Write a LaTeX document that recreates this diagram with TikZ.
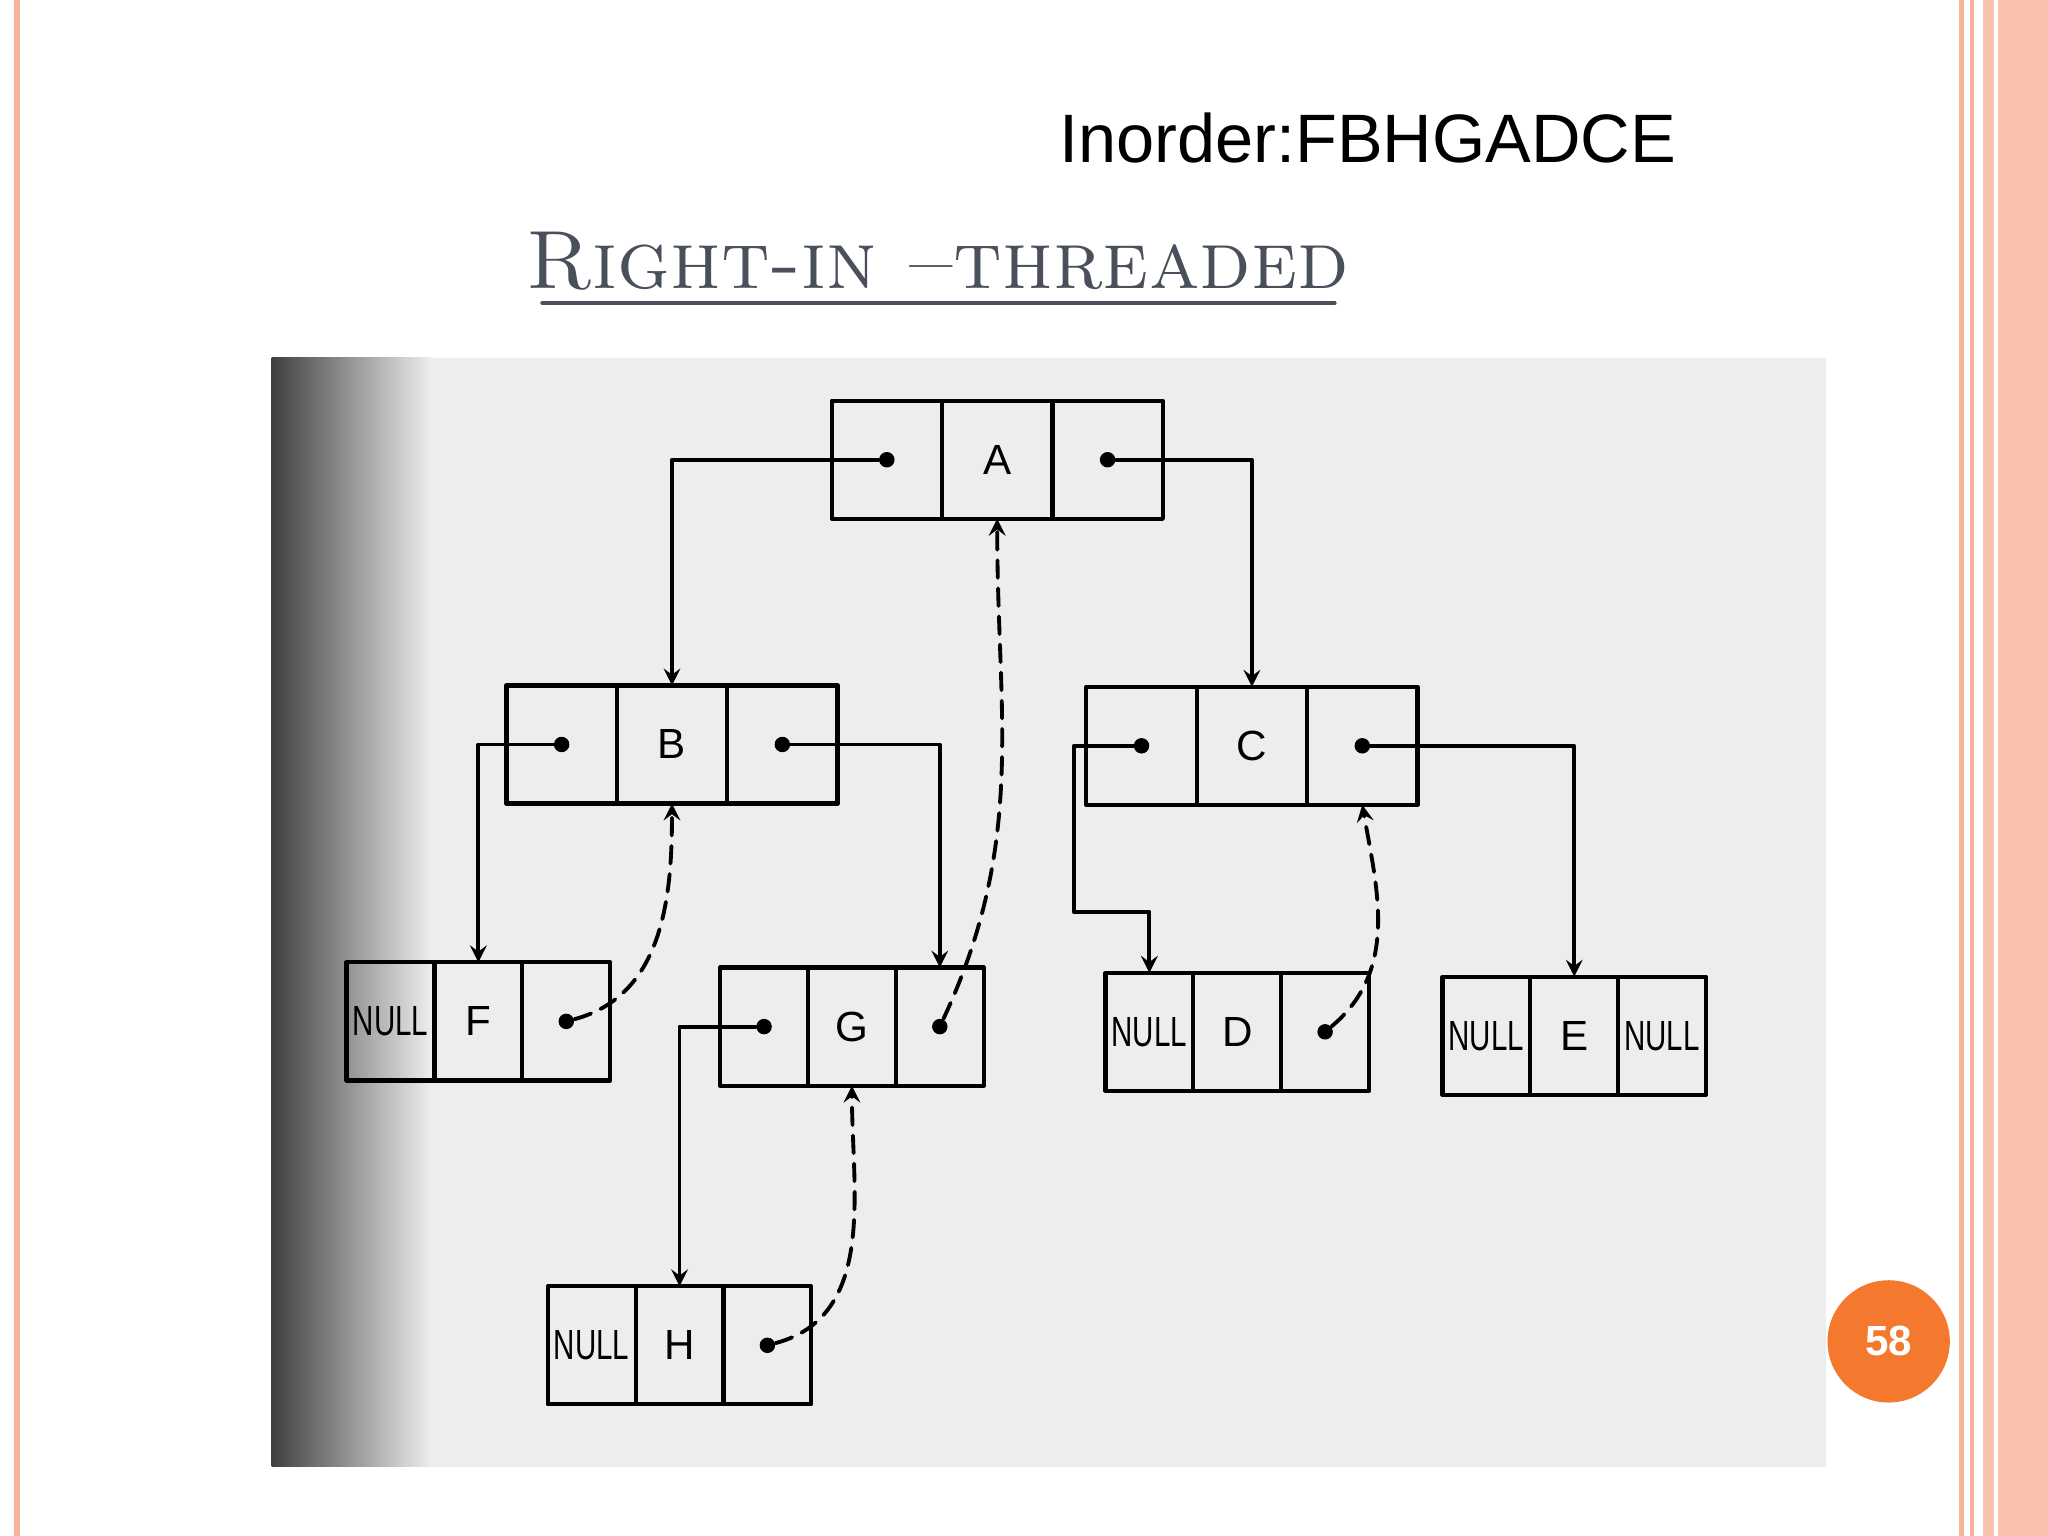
\documentclass[tikz,border=0pt]{standalone}
\usepackage{fontspec}
\newfontfamily\arial{Liberation Sans}
\usetikzlibrary{positioning}
\definecolor{salmon}{HTML}{F7B39A}
\definecolor{badge}{HTML}{F5782F}
\definecolor{titlegray}{HTML}{4A4F5C}
\tikzset{
  cell/.style={draw,line width=1.2pt,minimum width=31.4pt,minimum height=33.6pt,inner sep=0pt,
    outer sep=0pt,font=\arial\fontsize{12}{14}\selectfont},
  small/.style={cell,minimum width=25pt},
  link/.style={line width=1.1pt,->,>=stealth},
  thread/.style={line width=1.1pt,->,>=stealth,dash pattern=on 5pt off 3pt},
  dot/.style={circle,fill=black,inner sep=0pt,minimum size=4.4pt}
}
\newcommand{\nul}{\scalebox{0.7}[1]{NULL}}
% three-cell tree node
\newcommand{\treenode}[6][cell]{%
  \node[#1] (#2l) at (#3) {#4};
  \node[#1,right=0 of #2l] (#2m) {#5};
  \node[#1,right=0 of #2m] (#2r) {#6};}
\begin{document}
\begin{tikzpicture}[x=0.01306cm,y=-0.01306cm,line cap=round,line join=round]
\useasboundingbox (0,0) rectangle (1568,1176);
% page frame
\fill[white] (0,0) rectangle (1568,1176);
\draw[salmon,line width=1.5pt] (13,0) -- (13,1176);
\draw[salmon,line width=1.5pt] (1502,0) -- (1502,1176);
\draw[salmon,line width=1pt] (1510,0) -- (1510,1176);
\fill[salmon!80] (1518,0) rectangle (1568,1176);
\draw[white,line width=1pt] (1528,0) -- (1528,1176);
% headings
\node[font=\arial\fontsize{19.5}{23}\selectfont] (inord) at (1047,106) {Inorder:FBHGADCE};
\node[text=titlegray,font=\fontsize{23.5}{28}\selectfont\scshape] (title) at (718,200) {Right-in --threaded};
\draw[titlegray,line width=1pt] (415,232) -- (1022,232);
% scanned figure background
\fill[gray!14] (208,274) rectangle (1398,1123);
\shade[left color=black!75,right color=gray!14] (208,274) rectangle (330,1123);
% nodes
\treenode{A}{679,352}{}{A}{}
\treenode{B}{430,570}{}{B}{}
\treenode{C}{874,571}{}{C}{}
\treenode[small]{F}{299,782}{\nul}{F}{}
\treenode[small]{G}{585,786}{}{G}{}
\treenode[small]{D}{880,790}{\nul}{D}{}
\treenode[small]{E}{1138,793}{\nul}{E}{\nul}
\treenode[small]{H}{453,1030}{\nul}{H}{}
% pointer dots
\foreach \n in {A,B,C,G}{
  \node[dot] (\n pl) at (\n l) {};
}
\foreach \n in {A,B,C,F,G,D,H}{
  \node[dot] (\n pr) at (\n r) {};
}
% child links
\draw[link] (Apl) -| (Bm.north);
\draw[link] (Apr) -| (Cm.north);
\draw[link] (Bpl) -| (Fm.north);
\draw[link] (Bpr) -| (Gr.north);
\draw[link] (Cpl) -- ++(-52,0) -- ++(0,127) -| (Dl.north);
\draw[link] (Cpr) -| (Em.north);
\draw[link] (Gpl) -| (Hm.north);
% right threads
\draw[thread] (Fpr) to[out=15,in=-90] (Bm.south);
\draw[thread] (Gpr) to[out=65,in=-90] (Am.south);
\draw[thread] (Dpr) to[out=40,in=-80] (Cr.south);
\draw[thread] (Hpr) to[out=15,in=-90] (Gm.south);
% page number
\node[circle,fill=badge,minimum size=34.8pt,text=white,font=\arial\bfseries\fontsize{12}{14}\selectfont] (page) at (1446,1027) {58};
\end{tikzpicture}
\end{document}
